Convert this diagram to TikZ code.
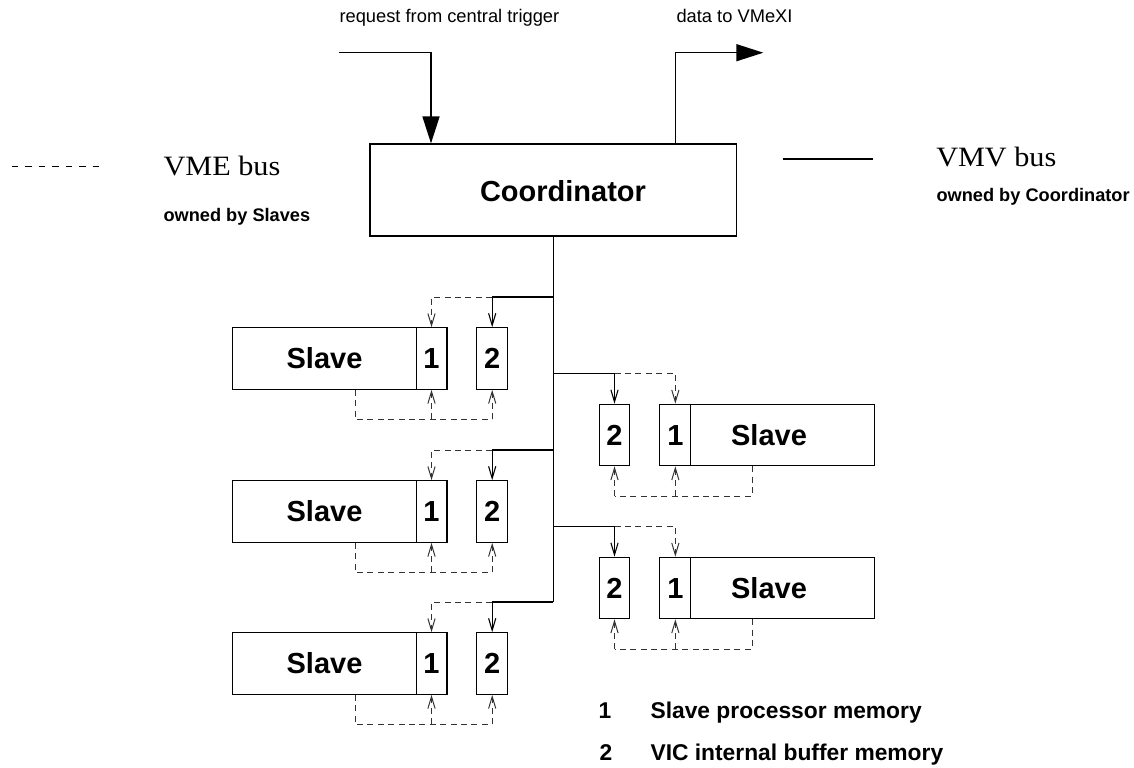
\documentclass[tikz,border=0pt]{standalone}
\usepackage{fontspec}
\setmainfont{Liberation Sans}
\newfontfamily\wides[FakeStretch=1.08]{Liberation Serif}
\usetikzlibrary{arrows.meta,calc}
\begin{document}
\begin{tikzpicture}[x=0.5pt,y=-0.5pt,
  line width=0.55pt,
  blk/.style={draw, line width=0.55pt, inner sep=0pt, minimum height=30.75pt, text height=10.4pt, text depth=0pt, font=\bfseries\fontsize{14.5pt}{17pt}\selectfont},
  slavebox/.style={blk, minimum width=91.6pt},
  memone/.style={blk, minimum width=15.45pt},
  memtwo/.style={blk, minimum width=15.3pt},
  slavetext/.style={inner sep=0pt, text height=10.4pt, text depth=0pt, font=\bfseries\fontsize{14.5pt}{17pt}\selectfont},
  lbl/.style={inner sep=0pt, anchor=base west},
  toptext/.style={lbl, font=\fontsize{9.15pt}{11pt}\selectfont},
  bustext/.style={lbl, font=\wides\fontsize{14pt}{16pt}\selectfont},
  owntext/.style={lbl, font=\bfseries\fontsize{9.1pt}{11pt}\selectfont},
  keytext/.style={lbl, font=\bfseries\fontsize{11.4pt}{13pt}\selectfont},
  sarrow/.style={-{Straight Barb[length=6pt,width=3.6pt]}},
  dline/.style={black!80, line width=0.5pt, dash pattern=on 3pt off 2.2pt},
  darrow/.style={dline, -{Straight Barb[length=6pt,width=3.6pt]}},
  bigarrow/.style={line width=0.7pt, -{Triangle[length=13.5pt,width=8.5pt]}},
]
\useasboundingbox (0,0) rectangle (1134,767);

% Coordinator
\node[draw, line width=0.6pt, inner sep=0pt, minimum width=183.35pt, minimum height=46pt] (coord) at (553.35,190) {};
\node[inner sep=0pt, font=\bfseries\fontsize{14.5pt}{17pt}\selectfont] (coordt) at (563,191) {Coordinator};

% top arrows
\coordinate (reqstart) at (339.3,52.7);
\coordinate (reqturn) at (431,52.7);
\draw[bigarrow] (reqstart) -- (reqturn) -- (reqturn |- coord.north);
\coordinate (dataturn) at (675.7,52.7);
\coordinate (dataend) at (763.3,52.7);
\draw[bigarrow] (dataturn |- coord.north) -- (dataturn) -- (dataend);

\node[toptext] (req) at (339,22.5) {request from central trigger};
\node[toptext] (data) at (676,22.5) {data to VMeXI};

% legend top
\coordinate (vmeA) at (11.7,166.7);
\coordinate (vmeB) at (99.3,166.7);
\draw[dash pattern=on 3.37pt off 3.37pt] (vmeA) -- (vmeB);
\node[bustext] (vme) at (163,175) {VME bus};
\node[owntext] (ownS) at (163,221.5) {owned by Slaves};
\coordinate (vmvA) at (782.7,159);
\coordinate (vmvB) at (873.3,159);
\draw (vmvA) -- (vmvB);
\node[bustext] (vmv) at (935.7,166) {VMV bus};
\node[owntext] (ownC) at (936,201) {owned by Coordinator};

% left slave groups
\foreach \i/\y in {1/358.5, 2/511.5, 3/663.5} {
  \node[slavebox] (slaveL\i) at (324.5,\y) {Slave};
  \node[memone] (oneL\i) at (431.5,\y) {1};
  \node[memtwo] (twoL\i) at (492.2,\y) {2};
  \coordinate (tapL\i) at (553.35,\y-61.5);
  \coordinate (stubL\i) at (355,\y+60.5);
  \draw[darrow] (twoL\i.north |- tapL\i) -| (oneL\i.north);
  \draw[sarrow] (tapL\i) -| (twoL\i.north);
  \draw[dline] (slaveL\i.south -| stubL\i) |- (twoL\i.south |- stubL\i);
  \draw[darrow] (oneL\i.south |- stubL\i) -- (oneL\i.south);
  \draw[darrow] (twoL\i.south |- stubL\i) -- (twoL\i.south);
}

% right slave groups
\foreach \j/\y in {1/435, 2/588} {
  \node[memtwo] (twoR\j) at (614.5,\y) {2};
  \node[memone] (oneR\j) at (675.35,\y) {1};
  \node[slavebox] (slaveR\j) at (782.5,\y) {};
  \node[slavetext] (slaveRt\j) at (769,\y) {Slave};
  \coordinate (tapR\j) at (553.35,\y-61.5);
  \coordinate (stubR\j) at (752,\y+61);
  \draw[darrow] (twoR\j.north |- tapR\j) -| (oneR\j.north);
  \draw[sarrow] (tapR\j) -| (twoR\j.north);
  \draw[dline] (slaveR\j.south -| stubR\j) |- (twoR\j.south |- stubR\j);
  \draw[darrow] (oneR\j.south |- stubR\j) -- (oneR\j.south);
  \draw[darrow] (twoR\j.south |- stubR\j) -- (twoR\j.south);
}

% bus
\draw (coord.south) -- (tapL3);

% bottom key
\node[keytext] (k1) at (598,718) {1};
\node[keytext] (k1t) at (650,718) {Slave processor memory};
\node[keytext] (k2) at (599,760) {2};
\node[keytext] (k2t) at (650,760) {VIC internal buffer memory};
\end{tikzpicture}
\end{document}
